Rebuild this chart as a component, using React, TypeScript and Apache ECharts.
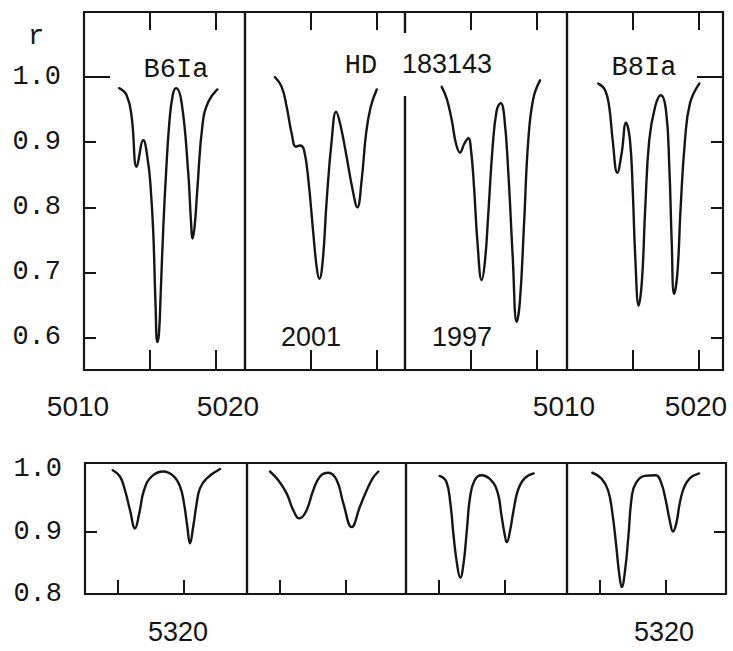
import React, { useEffect, useRef } from 'react';
import * as echarts from 'echarts';

// ---------- data (wavelength in Å, residual intensity r) ----------
const B6IA_5015: [number, number][] = [
  [5012.67, 0.983], [5013.23, 0.972], [5013.61, 0.939], [5013.99, 0.862], [5014.49, 0.903],
  [5014.85, 0.87], [5015.05, 0.83], [5015.25, 0.76], [5015.42, 0.65], [5015.55, 0.593],
  [5015.68, 0.606], [5015.81, 0.668], [5016.01, 0.77], [5016.21, 0.85], [5016.46, 0.929],
  [5016.72, 0.972], [5016.97, 0.983], [5017.4, 0.96], [5017.9, 0.852], [5018.1, 0.78],
  [5018.23, 0.752], [5018.4, 0.775], [5018.58, 0.826], [5018.99, 0.929], [5019.42, 0.962],
  [5020.1, 0.981],
];
const HD2001_5015: [number, number][] = [
  [5012.27, 1.0], [5012.78, 0.985], [5013.16, 0.954], [5013.54, 0.913], [5013.86, 0.893],
  [5014.17, 0.895], [5014.47, 0.888], [5014.8, 0.842], [5015.13, 0.77], [5015.43, 0.708],
  [5015.63, 0.69], [5015.89, 0.718], [5016.19, 0.811], [5016.57, 0.903], [5016.9, 0.947],
  [5017.2, 0.929], [5017.65, 0.883], [5018.16, 0.826], [5018.51, 0.8], [5018.84, 0.842],
  [5019.17, 0.913], [5019.52, 0.954], [5019.98, 0.981],
];
const HD1997_5015: [number, number][] = [
  [5012.78, 0.985], [5013.16, 0.967], [5013.54, 0.934], [5013.86, 0.898], [5014.17, 0.884],
  [5014.5, 0.898], [5014.8, 0.906], [5015.0, 0.888], [5015.23, 0.831], [5015.48, 0.749],
  [5015.81, 0.688], [5016.06, 0.718], [5016.31, 0.79], [5016.64, 0.893], [5016.95, 0.949],
  [5017.25, 0.96], [5017.52, 0.939], [5017.83, 0.852], [5018.16, 0.724], [5018.46, 0.624],
  [5018.71, 0.657], [5019.02, 0.775], [5019.34, 0.903], [5019.72, 0.967], [5020.23, 0.995],
];
const B8IA_5015: [number, number][] = [
  [5012.37, 0.99], [5012.88, 0.98], [5013.2, 0.954], [5013.46, 0.903], [5013.81, 0.853],
  [5014.14, 0.883], [5014.47, 0.93], [5014.77, 0.903], [5014.98, 0.826], [5015.17, 0.724],
  [5015.43, 0.649], [5015.68, 0.688], [5015.93, 0.8], [5016.23, 0.903], [5016.67, 0.954],
  [5017.1, 0.972], [5017.5, 0.949], [5017.75, 0.862], [5017.93, 0.749], [5018.11, 0.667],
  [5018.36, 0.698], [5018.61, 0.8], [5018.94, 0.903], [5019.32, 0.96], [5020.02, 0.99],
];

const B6IA_5320: [number, number][] = [
  [5314.6, 0.998], [5315.15, 0.988], [5315.53, 0.966], [5315.91, 0.934], [5316.29, 0.905],
  [5316.61, 0.929], [5316.97, 0.966], [5317.55, 0.988], [5318.43, 0.996], [5319.19, 0.989],
  [5319.7, 0.972], [5320.0, 0.945], [5320.25, 0.908], [5320.45, 0.881], [5320.7, 0.908],
  [5320.96, 0.945], [5321.21, 0.969], [5321.72, 0.985], [5322.73, 1.0],
];
const HD2001_5320: [number, number][] = [
  [5314.24, 0.996], [5314.87, 0.982], [5315.5, 0.961], [5316.01, 0.934], [5316.46, 0.921],
  [5316.97, 0.932], [5317.52, 0.966], [5318.03, 0.988], [5318.66, 0.994], [5319.3, 0.982],
  [5319.8, 0.945], [5320.43, 0.907], [5321.06, 0.94], [5321.57, 0.966], [5322.02, 0.985],
  [5322.45, 0.996],
];
const HD1997_5320: [number, number][] = [
  [5315.05, 0.989], [5315.55, 0.98], [5315.86, 0.945], [5316.11, 0.892], [5316.36, 0.849],
  [5316.61, 0.826], [5316.86, 0.849], [5317.11, 0.902], [5317.36, 0.956], [5317.7, 0.982],
  [5318.2, 0.99], [5318.95, 0.982], [5319.46, 0.961], [5319.71, 0.929], [5319.96, 0.897],
  [5320.14, 0.883], [5320.39, 0.902], [5320.65, 0.934], [5320.98, 0.966], [5321.48, 0.985],
  [5322.17, 0.993],
];
const B8IA_5320: [number, number][] = [
  [5314.42, 0.994], [5315.1, 0.985], [5315.61, 0.966], [5315.94, 0.929], [5316.24, 0.875],
  [5316.45, 0.833], [5316.65, 0.811], [5316.9, 0.838], [5317.15, 0.892], [5317.41, 0.956],
  [5317.71, 0.977], [5318.39, 0.989], [5319.23, 0.99], [5319.65, 0.977], [5319.98, 0.95],
  [5320.28, 0.918], [5320.53, 0.9], [5320.78, 0.913], [5321.04, 0.945], [5321.34, 0.969],
  [5321.8, 0.985], [5322.5, 0.993],
];

const TOP_SERIES = [B6IA_5015, HD2001_5015, HD1997_5015, B8IA_5015];
const BOTTOM_SERIES = [B6IA_5320, HD2001_5320, HD1997_5320, B8IA_5320];

// ticks and tick labels
const TOP_X_TICKS = [5015, 5020];
const TOP_X_LABELS = [5010, 5020];
const BOTTOM_X_TICKS = [5315, 5320];
const BOTTOM_X_LABELS = [5320];
const TOP_Y_TICKS = [0.6, 0.7, 0.8, 0.9];
const TOP_Y_LABELS = [0.6, 0.7, 0.8, 0.9, 1.0];
const BOTTOM_Y_TICKS = [0.9];
const BOTTOM_Y_LABELS = [0.8, 0.9, 1.0];
const CONTINUUM = [1.0];

const TOP_X_MIN = 5010;
const BOTTOM_X_MIN = 5312.5;
const TOP_Y_RANGE = [0.55, 1.1];
const BOTTOM_Y_RANGE = [0.8, 1.0096];

// texts
const Y_NAME = 'r';
const SPECTRAL_LEFT = 'B6Ia';
const SPECTRAL_RIGHT = 'B8Ia';
const STAR_PREFIX = 'HD';
const STAR_NUMBER = '183143';
const EPOCH_LEFT = '2001';
const EPOCH_RIGHT = '1997';

// ---------- layout / style ----------
const INK = '#151515';
const MONO = '"Liberation Mono", "DejaVu Sans Mono", monospace';
const SANS = '"Liberation Sans", Arial, sans-serif';
const PX_PER_A = 13.2;
const TOP_LEFTS = [84, 245, 405, 567];
const TOP_WIDTHS = [161, 160, 162, 156];
const BOT_LEFTS = [85, 247, 406, 567];
const BOT_WIDTHS = [162, 159, 161, 159];

function buildOption() {
  const grid: any[] = [];
  const xAxis: any[] = [];
  const yAxis: any[] = [];
  const series: any[] = [];

  const hiddenLabel = { show: false };
  const noLine = { show: false };
  const noSplit = { show: false };

  const addPanel = (row: 'top' | 'bottom', i: number) => {
    const isTop = row === 'top';
    const left = isTop ? TOP_LEFTS[i] : BOT_LEFTS[i];
    const width = isTop ? TOP_WIDTHS[i] : BOT_WIDTHS[i];
    const top = isTop ? 12 : 463;
    const height = isTop ? 358 : 131;
    const xmin = isTop ? TOP_X_MIN : BOTTOM_X_MIN;
    const xmax = xmin + width / PX_PER_A;
    const [ymin, ymax] = isTop ? TOP_Y_RANGE : BOTTOM_Y_RANGE;
    const gi = grid.length;
    grid.push({
      left, top, width, height, show: true,
      containLabel: false,
      outerBoundsMode: 'none',
      borderColor: INK, borderWidth: 2.2, backgroundColor: 'transparent',
    });

    let xLabel: any = hiddenLabel;
    if (isTop && (i === 0 || i === 3)) {
      xLabel = {
        show: true,
        customValues: TOP_X_LABELS,
        showMinLabel: true,
        showMaxLabel: true,
        margin: 22,
        color: INK,
        fontFamily: SANS,
        fontSize: 28,
        formatter: (v: number) => {
          const s = String(Math.round(v));
          if (i !== 0) return `{n|${s}}`;
          return Math.round(v) === TOP_X_LABELS[0] ? `{a|${s}}` : `{b|${s}}`;
        },
        rich: {
          n: { fontFamily: SANS, fontSize: 28, color: INK, padding: [0, 6, 0, 0] },
          a: { fontFamily: SANS, fontSize: 28, color: INK, padding: [0, 12, 0, 0] },
          b: { fontFamily: SANS, fontSize: 28, color: INK, padding: [0, 0, 0, 24] },
        },
      };
    } else if (!isTop && (i === 0 || i === 3)) {
      xLabel = {
        show: true,
        customValues: BOTTOM_X_LABELS,
        margin: 24,
        color: INK,
        fontFamily: SANS,
        fontSize: 27,
        formatter: (v: number) => `{n|${Math.round(v)}}`,
        rich: {
          n: {
            fontFamily: SANS, fontSize: 27, color: INK,
            padding: i === 0 ? [0, 12, 0, 0] : [0, 4, 0, 0],
          },
        },
      };
    }
    const xi = xAxis.length;
    xAxis.push({
      gridIndex: gi, type: 'value', position: 'bottom', min: xmin, max: xmax,
      axisLine: noLine, splitLine: noSplit,
      axisTick: {
        show: true, inside: true, length: isTop ? 20 : 14,
        customValues: isTop ? TOP_X_TICKS : BOTTOM_X_TICKS,
        lineStyle: { color: INK, width: 2 },
      },
      axisLabel: xLabel,
    });
    if (isTop) {
      xAxis.push({
        gridIndex: gi, type: 'value', position: 'top', min: xmin, max: xmax,
        axisLine: noLine, splitLine: noSplit,
        axisTick: {
          show: true, inside: true, length: 18, customValues: TOP_X_TICKS,
          lineStyle: { color: INK, width: 2 },
        },
        axisLabel: hiddenLabel,
      });
    }

    const yi = yAxis.length;
    const edge = i === 0 || i === 3;
    yAxis.push({
      gridIndex: gi, type: 'value', min: ymin, max: ymax,
      position: i === 3 ? 'right' : 'left',
      show: edge,
      axisLine: noLine, splitLine: noSplit,
      axisTick: {
        show: edge, inside: true, length: 12,
        customValues: isTop ? TOP_Y_TICKS : BOTTOM_Y_TICKS,
        lineStyle: { color: INK, width: 2 },
      },
      axisLabel: i === 0 ? {
        show: true,
        customValues: isTop ? TOP_Y_LABELS : BOTTOM_Y_LABELS,
        showMinLabel: true, showMaxLabel: true,
        margin: 23, color: INK, fontFamily: MONO, fontSize: 27,
        formatter: (v: number) => v.toFixed(1),
      } : hiddenLabel,
    });
    if (isTop && edge) {
      yAxis.push({
        gridIndex: gi, type: 'value', min: ymin, max: ymax,
        position: i === 3 ? 'right' : 'left',
        axisLine: noLine, splitLine: noSplit,
        axisTick: {
          show: true, inside: true, length: 26, customValues: CONTINUUM,
          lineStyle: { color: INK, width: 2 },
        },
        axisLabel: hiddenLabel,
      });
    }

    series.push({
      type: 'line',
      xAxisIndex: xi,
      yAxisIndex: yi,
      data: isTop ? TOP_SERIES[i] : BOTTOM_SERIES[i],
      showSymbol: false,
      symbol: 'none',
      smooth: 0.45,
      silent: true,
      lineStyle: { color: INK, width: 2.4, cap: 'round', join: 'round' },
      z: 3,
    });
  };

  for (let i = 0; i < 4; i++) addPanel('top', i);
  for (let i = 0; i < 4; i++) addPanel('bottom', i);

  const txt = (text: string, x: number, y: number, font: string) => ({
    type: 'text', x, y, z: 20,
    style: {
      text, fill: INK, font: `27px ${font}`,
      align: 'center', verticalAlign: 'middle',
    },
  });

  const graphic = [
    { type: 'rect', z: 15, shape: { x: 402, y: 33, width: 6, height: 63 }, style: { fill: '#ffffff' } },
    txt(Y_NAME, 36, 37, MONO),
    txt(SPECTRAL_LEFT, 176, 70, MONO),
    txt(STAR_PREFIX, 361, 66, MONO),
    txt(STAR_NUMBER, 447, 64, SANS),
    txt(SPECTRAL_RIGHT, 644, 68, MONO),
    txt(EPOCH_LEFT, 311, 337, SANS),
    txt(EPOCH_RIGHT, 462, 337, SANS),
  ];

  return {
    animation: false,
    backgroundColor: '#ffffff',
    grid, xAxis, yAxis, series, graphic,
  };
}

export default function App() {
  const ref = useRef<HTMLDivElement>(null);
  useEffect(() => {
    if (!ref.current) return;
    const chart = echarts.init(ref.current, null, { renderer: 'svg' });
    chart.setOption(buildOption() as any);
    return () => chart.dispose();
  }, []);
  return (
    <div
      ref={ref}
      style={{ position: 'fixed', left: 0, top: 0, width: 733, height: 651, background: '#fff' }}
    />
  );
}
